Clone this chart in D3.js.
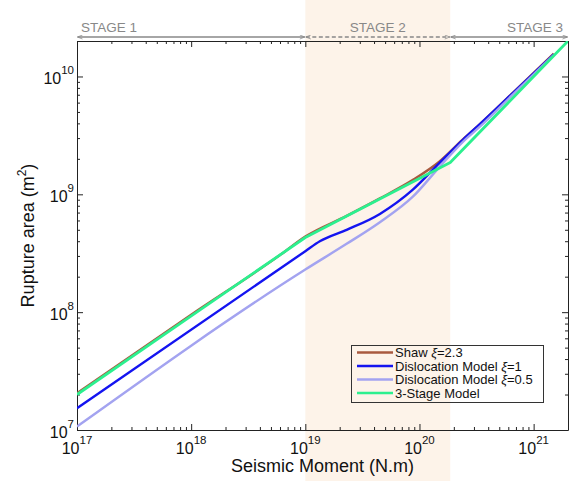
<!DOCTYPE html>
<html>
<head>
<meta charset="utf-8">
<script src="https://cdn.jsdelivr.net/npm/d3@7"></script>
<style>
  html, body { margin: 0; padding: 0; background: #fff; }
  svg { display: block; font-family: "Liberation Sans", Arial, Helvetica, sans-serif; }
</style>
</head>
<body>
<svg id="chart" width="574" height="481"></svg>
<script>
// Seismic moment (N.m) vs rupture area (m^2) for the scaling models
const shawMoment = [1e17, 1e18, 6e18, 1e19, 2.3e19, 4.5e19, 8.7e19, 1.5e20, 2.4e20, 3.4e20, 6.6e20, 1.5e21];
const shawArea   = [2.05e7, 9.5e7, 3.05e8, 4.38e8, 6.56e8, 9.23e8, 1.32e9, 1.9e9, 2.92e9, 3.96e9, 7.3e9, 1.56e10];

const disl1Moment = [1e17, 1e19, 1.34e19, 2.3e19, 4.5e19, 8.7e19, 1.5e20, 2.4e20, 3.4e20, 6.6e20, 1.5e21];
const disl1Area   = [1.53e7, 3.29e8, 3.99e8, 4.99e8, 6.82e8, 1.09e9, 1.85e9, 2.9e9, 3.96e9, 7.26e9, 1.54e10];

const disl05Moment = [1e17, 1e19, 2.3e19, 4.5e19, 8.7e19, 1.5e20, 2.4e20, 3.4e20, 6.6e20, 1.5e21];
const disl05Area   = [1.07e7, 2.3e8, 3.8e8, 5.8e8, 9.5e8, 1.71e9, 2.79e9, 3.77e9, 7.05e9, 1.52e10];

const stage3Moment = [1e17, 1e19, 1.86e20, 2e21];
const stage3Area   = [2e7, 4.3e8, 1.86e9, 2e10];

// Stage boundaries along the moment axis
const stageEdges = [1e17, 1e19, 1.86e20, 2e21];
const stageNames = ["STAGE 1", "STAGE 2", "STAGE 3"];

const xDomain = [1e17, 2e21];
const yDomain = [1e7, 2e10];
const xMajorTicks = [1e17, 1e18, 1e19, 1e20, 1e21];
const xTickExponents = ["17", "18", "19", "20", "21"];
const yMajorTicks = [1e7, 1e8, 1e9, 1e10];
const yTickExponents = ["7", "8", "9", "10"];

const seriesNames = ["Shaw ξ=2.3", "Dislocation Model ξ=1", "Dislocation Model ξ=0.5", "3-Stage Model"];

const svg = d3.select("#chart");
const pLeft = 77, pRight = 568, pTop = 41, pBottom = 430;

const x = d3.scaleLog().domain(xDomain).range([pLeft, pRight]);
const y = d3.scaleLog().domain(yDomain).range([pBottom, pTop]);

// Stage 2 band
svg.append("rect")
  .attr("x", x(stageEdges[1])).attr("y", 0)
  .attr("width", x(stageEdges[2]) - x(stageEdges[1]))
  .attr("height", 481)
  .attr("fill", "#fdf3e9");

// minor tick values for a log axis
function minorTicks(domain) {
  const out = [];
  const lo = Math.floor(Math.log10(domain[0])), hi = Math.ceil(Math.log10(domain[1]));
  for (let e = lo; e <= hi; e++) {
    for (let m = 2; m <= 9; m++) {
      const v = m * Math.pow(10, e);
      if (v >= domain[0] && v <= domain[1]) out.push(v);
    }
  }
  return out;
}
const xMinor = minorTicks(xDomain);
const yMinor = minorTicks(yDomain);

function styleAxis(g) {
  g.select(".domain").attr("stroke", "#222").attr("stroke-width", 1);
  g.selectAll(".tick line").attr("stroke", "#222").attr("stroke-width", 1);
}

const axisSpecs = [
  { make: d3.axisBottom, scale: x, ticks: xMajorTicks, minor: xMinor, tr: `translate(0,${pBottom})` },
  { make: d3.axisTop, scale: x, ticks: xMajorTicks, minor: xMinor, tr: `translate(0,${pTop})` },
  { make: d3.axisLeft, scale: y, ticks: yMajorTicks, minor: yMinor, tr: `translate(${pLeft},0)` },
  { make: d3.axisRight, scale: y, ticks: yMajorTicks, minor: yMinor, tr: `translate(${pRight},0)` }
];
axisSpecs.forEach(a => {
  svg.append("g").attr("transform", a.tr)
    .call(a.make(a.scale).tickValues(a.ticks).tickSize(-6).tickSizeOuter(0).tickFormat(() => ""))
    .call(styleAxis);
  svg.append("g").attr("transform", a.tr)
    .call(a.make(a.scale).tickValues(a.minor).tickSize(-3).tickSizeOuter(0).tickFormat(() => ""))
    .call(styleAxis).select(".domain").remove();
});

// x tick labels: 10 with superscript exponent
xMajorTicks.forEach((v, i) => {
  const t = svg.append("text")
    .attr("x", x(v)).attr("y", pBottom + 24)
    .attr("text-anchor", "middle")
    .attr("font-size", 16).attr("fill", "#111");
  t.append("tspan").text("10");
  t.append("tspan").attr("dy", -10).attr("font-size", 11.5).text(xTickExponents[i]);
});
// y tick labels
yMajorTicks.forEach((v, i) => {
  const t = svg.append("text")
    .attr("x", pLeft - 3).attr("y", y(v) + 8)
    .attr("text-anchor", "end")
    .attr("font-size", 16).attr("fill", "#111");
  t.append("tspan").text("10");
  t.append("tspan").attr("dy", -10).attr("font-size", 11.5).text(yTickExponents[i]);
});

// axis titles
svg.append("text")
  .attr("x", (pLeft + pRight) / 2).attr("y", 472)
  .attr("text-anchor", "middle").attr("font-size", 18).attr("fill", "#111")
  .text("Seismic Moment (N.m)");
const yt = svg.append("text")
  .attr("transform", `translate(34,${(pTop + pBottom) / 2}) rotate(-90)`)
  .attr("text-anchor", "middle").attr("font-size", 18).attr("fill", "#111");
yt.append("tspan").text("Rupture area (m");
yt.append("tspan").attr("dy", -8).attr("font-size", 12).text("2");
yt.append("tspan").attr("dy", 8).text(")");

// stage arrows and labels
const arrowY = 37;
const defs = svg.append("defs");
["start", "end"].forEach(k => {
  defs.append("marker")
    .attr("id", "arr-" + k)
    .attr("viewBox", "0 0 10 10").attr("refX", k === "end" ? 10 : 0).attr("refY", 5)
    .attr("markerWidth", 7).attr("markerHeight", 5).attr("markerUnits", "userSpaceOnUse")
    .attr("orient", "auto")
    .append("path")
    .attr("d", k === "end" ? "M0,1 L10,5 L0,9" : "M10,1 L0,5 L10,9")
    .attr("fill", "none").attr("stroke", "#888").attr("stroke-width", 1.5);
});
for (let i = 0; i < 3; i++) {
  const x0 = x(stageEdges[i]), x1 = x(stageEdges[i + 1]);
  svg.append("line")
    .attr("x1", x0 + 0.5).attr("x2", x1 - 0.5)
    .attr("y1", arrowY).attr("y2", arrowY)
    .attr("stroke", "#888").attr("stroke-width", 1.6)
    .attr("stroke-dasharray", i === 1 ? "4,2.5" : null)
    .attr("marker-start", "url(#arr-start)")
    .attr("marker-end", "url(#arr-end)");
  let tx, anchor;
  if (i === 0) { tx = x0 + 4; anchor = "start"; }
  else if (i === 1) { tx = (x0 + x1) / 2; anchor = "middle"; }
  else { tx = x1 - 5; anchor = "end"; }
  svg.append("text")
    .attr("x", tx).attr("y", 32)
    .attr("text-anchor", anchor)
    .attr("font-size", 13.5).attr("fill", "#888")
    .text(stageNames[i]);
}

// curves
const series = [
  { name: seriesNames[0], m: shawMoment, a: shawArea, color: "#a85a3f", width: 2.4, curve: d3.curveMonotoneX },
  { name: seriesNames[1], m: disl1Moment, a: disl1Area, color: "#1414f0", width: 2.4, curve: d3.curveMonotoneX },
  { name: seriesNames[2], m: disl05Moment, a: disl05Area, color: "#a3a3f0", width: 2.4, curve: d3.curveMonotoneX },
  { name: seriesNames[3], m: stage3Moment, a: stage3Area, color: "#2cf08f", width: 2.8, curve: d3.curveLinear }
];

const clip = defs.append("clipPath").attr("id", "plot-clip");
clip.append("rect").attr("x", pLeft).attr("y", pTop).attr("width", pRight - pLeft).attr("height", pBottom - pTop);

const plot = svg.append("g").attr("clip-path", "url(#plot-clip)");
series.forEach(s => {
  const pts = s.m.map((v, i) => [v, s.a[i]]);
  plot.append("path")
    .datum(pts)
    .attr("d", d3.line().x(d => x(d[0])).y(d => y(d[1])).curve(s.curve))
    .attr("fill", "none")
    .attr("stroke", s.color)
    .attr("stroke-width", s.width)
    .attr("stroke-linejoin", "round");
});

// legend
const lg = svg.append("g");
lg.append("rect")
  .attr("x", 351.5).attr("y", 345.5).attr("width", 192).attr("height", 57)
  .attr("fill", "none").attr("stroke", "#333").attr("stroke-width", 1);
series.forEach((s, i) => {
  const ly = 352.5 + i * 13.5;
  lg.append("line")
    .attr("x1", 357).attr("x2", 393).attr("y1", ly).attr("y2", ly)
    .attr("stroke", s.color).attr("stroke-width", 2.4);
  const t = lg.append("text")
    .attr("x", 395).attr("y", ly + 4.6)
    .attr("font-size", 13).attr("fill", "#111");
  const parts = s.name.split("ξ");
  t.append("tspan").text(parts[0]);
  if (parts.length > 1) {
    t.append("tspan").attr("font-style", "italic").text("ξ");
    t.append("tspan").text(parts[1]);
  }
});
</script>
</body>
</html>
